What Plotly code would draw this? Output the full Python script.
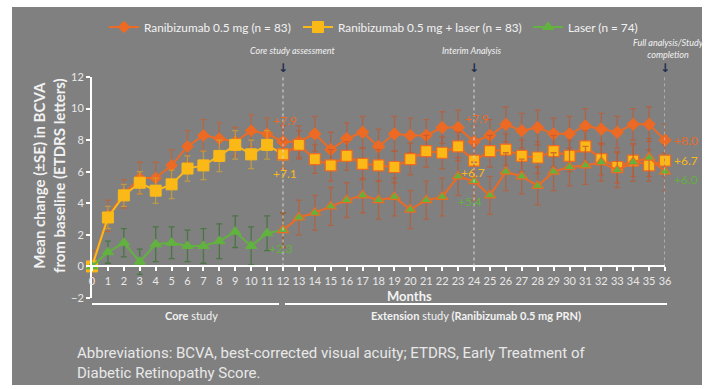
import plotly.graph_objects as go

# Mean change in BCVA (ETDRS letters) by month, with standard errors
months = list(range(0, 37))

ranibizumab = [0.0, 3.2, 4.6, 5.6, 5.6, 6.4, 7.6, 8.3, 8.1, 7.9, 8.6, 8.4, 7.9,
               7.9, 8.4, 7.4, 8.1, 8.5, 7.6, 8.4, 8.3, 8.3, 8.8, 8.8, 7.9,
               8.3, 9.0, 8.6, 8.8, 8.4, 8.4, 8.9, 8.7, 8.5, 9.0, 9.0, 8.0]
ranibizumab_se = [1.0, 1.0, 0.9, 1.0, 1.0, 1.0, 1.0, 1.0, 1.0, 0.9, 1.0, 1.0, 1.0,
                  1.0, 1.1, 1.1, 1.0, 1.0, 1.1, 1.1, 1.1, 1.0, 1.0, 1.1, 1.0,
                  1.0, 1.1, 1.1, 1.1, 1.0, 1.1, 1.1, 1.0, 1.0, 1.0, 1.1, 1.0]

combo = [0.0, 3.1, 4.5, 5.3, 4.8, 5.2, 6.2, 6.4, 7.0, 7.7, 7.1, 7.7, 7.1,
         7.7, 6.8, 6.4, 7.0, 6.5, 6.4, 6.3, 6.8, 7.3, 7.2, 7.6, 6.7,
         7.3, 7.4, 7.0, 6.9, 7.3, 7.0, 7.6, 6.8, 6.3, 6.7, 6.4, 6.7]
combo_se = [0.0, 0.7, 0.7, 0.7, 0.8, 0.9, 0.8, 0.9, 1.0, 0.9, 0.9, 0.9, 0.9,
            0.9, 0.9, 1.0, 0.9, 1.0, 1.0, 1.0, 1.0, 1.0, 1.0, 0.9, 1.0,
            1.0, 1.0, 1.0, 1.0, 1.0, 1.0, 1.0, 1.0, 1.0, 1.0, 1.0, 1.0]

laser = [0.0, 0.9, 1.5, 0.3, 1.4, 1.5, 1.3, 1.3, 1.6, 2.2, 1.3, 2.1, 2.3,
         3.1, 3.4, 3.8, 4.2, 4.5, 4.2, 4.4, 3.6, 4.2, 4.4, 5.7, 5.4,
         4.5, 6.0, 5.7, 5.1, 6.0, 6.3, 6.4, 6.6, 6.1, 6.6, 6.9, 6.0]
laser_se = [0.0, 0.7, 0.9, 0.8, 1.1, 1.0, 1.0, 1.1, 1.1, 1.0, 1.2, 1.1, 1.1,
            1.1, 1.1, 1.2, 1.1, 1.1, 1.2, 1.2, 1.2, 1.2, 1.2, 1.2, 1.2,
            1.2, 1.2, 1.1, 1.2, 1.2, 1.2, 1.2, 1.2, 1.1, 1.2, 1.2, 1.2]

series_names = ["Ranibizumab 0.5 mg (n = 83)",
                "Ranibizumab 0.5 mg + laser (n = 83)",
                "Laser (n = 74)"]
milestones = [12, 24, 36]
milestone_texts = ["<i>Core study assessment</i>", "<i>Interim Analysis</i>",
                   "<i>Full analysis/Study<br>completion</i>"]
y_ticks = list(range(-2, 13, 2))

ORANGE = "#EC6A24"
YELLOW = "#FBB917"
GREEN = "#62B23F"
BG = "#808080"
TEXT = "#F2F2F2"
FONT = "Lato"

W, H = 715, 389
ML, MR, MT, MB = 92, 50, 77, 91
PW, PH = W - ML - MR, H - MT - MB


def px(xp):
    return (xp - ML) / PW


def py(yp):
    return (H - MB - yp) / PH


series = [
    (series_names[0], ranibizumab, ranibizumab_se, ORANGE, "diamond", 9,
     "rgba(200,95,45,0.75)"),
    (series_names[1], combo, combo_se, YELLOW, "square", 11,
     "rgba(215,165,45,0.7)"),
    (series_names[2], laser, laser_se, GREEN, "triangle-up", 10,
     "rgba(55,115,45,0.75)"),
]
legend_ids = ["legend", "legend2", "legend3"]
legend_x = [104, 298, 528]

fig = go.Figure()
CORE_END = 12

# Core study period: each arm in its own colour
for (name, vals, se, col, sym, size, ecol), lg in zip(series, legend_ids):
    fig.add_trace(go.Scatter(
        x=months[:CORE_END + 1], y=vals[:CORE_END + 1], name=name, legend=lg,
        mode="lines+markers", cliponaxis=False,
        line=dict(color=col, width=2),
        marker=dict(symbol=sym, size=size, color=col,
                    line=dict(color=col, width=1)),
        error_y=dict(type="data", array=se[:CORE_END + 1], visible=True,
                     color=ecol, thickness=1.3, width=3),
    ))

# Extension study: all arms on ranibizumab PRN, drawn in orange
ext_err = "rgba(190,90,50,0.75)"
for name, vals, se, col, sym, size, ecol in series:
    fig.add_trace(go.Scatter(
        x=months[CORE_END:], y=vals[CORE_END:], name=name, showlegend=False,
        mode="lines+markers", cliponaxis=False,
        line=dict(color=ORANGE, width=2),
        marker=dict(symbol=sym, size=size, color=col,
                    line=dict(color=ORANGE, width=1.2)),
        error_y=dict(type="data", array=se[CORE_END:], visible=True,
                     color=ext_err, thickness=1.3, width=3),
    ))

shapes = [
    # grey panel with a thin white border around it
    dict(type="rect", xref="paper", yref="paper", layer="below",
         x0=px(12), x1=px(702), y0=py(385), y1=py(7),
         fillcolor=BG, line=dict(width=0)),
    # study period brackets
    dict(type="line", xref="paper", yref="paper", x0=px(92), x1=px(279),
         y0=py(304), y1=py(304), line=dict(color="white", width=2)),
    dict(type="line", xref="paper", yref="paper", x0=px(285), x1=px(667),
         y0=py(304), y1=py(304), line=dict(color="white", width=2)),
]
for m in milestones:
    shapes.append(dict(type="line", xref="x", yref="y", x0=m, x1=m, y0=0, y1=12,
                       line=dict(color="#D8D8D8", width=1, dash="dot")))


def note(xp, yp, text, size, color=TEXT, family=FONT, **kw):
    return dict(x=px(xp), y=py(yp), xref="paper", yref="paper", text=text,
                showarrow=False, xanchor=kw.pop("xanchor", "center"),
                yanchor="middle", font=dict(family=family, size=size, color=color),
                **kw)


annotations = []
for m, t, (tx, ty) in zip(milestones, milestone_texts,
                          [(292, 50), (472, 50), (668, 48)]):
    annotations.append(note(tx, ty, t, 9))
    annotations.append(dict(x=m, y=12, xref="x", yref="y", text="<b>↓</b>",
                            showarrow=False, yanchor="middle", yshift=9,
                            font=dict(family="DejaVu Sans", size=12,
                                      color="#1F2E50")))

# value labels at the milestones
label_offsets = {
    12: [(2, 21, "center"), (2, -19, "center"), (-2, -18, "center")],
    24: [(3, 23, "center"), (-1, -12, "center"), (-4, -20, "center")],
    36: [(7, 0, "left"), (7, 0, "left"), (7, -8, "left")],
}
for m, offs in label_offsets.items():
    for (name, vals, se, col, sym, size, ecol), (dx, dy, anc) in zip(series, offs):
        annotations.append(dict(
            x=m, y=vals[m], xref="x", yref="y", text=f"+{vals[m]:.1f}",
            showarrow=False, xshift=dx, yshift=dy, xanchor=anc, yanchor="middle",
            font=dict(family=FONT, size=12, color=col)))

annotations += [
    note(409, 296, "<b>Months</b>", 13),
    note(191, 315, "<b>Core</b> study", 11),
    note(476, 315, "<b>Extension</b> study <b>(Ranibizumab 0.5 mg PRN)</b>", 11),
    note(49, 176, "<b>Mean change (±SE) in BCVA<br>from baseline (ETDRS letters)</b>",
         15, textangle=-90),
    note(75, 363, "Abbreviations: BCVA, best-corrected visual acuity; ETDRS, "
                  "Early Treatment of<br>Diabetic Retinopathy Score.",
         15, color="#E8E8E8", family="Roboto", xanchor="left", align="left"),
]

legend_style = dict(orientation="h", xanchor="left", yanchor="middle",
                    y=py(27), bgcolor="rgba(0,0,0,0)", itemwidth=30,
                    font=dict(family=FONT, size=11.8, color=TEXT))

fig.update_layout(
    width=W, height=H, autosize=False,
    margin=dict(l=ML, r=MR, t=MT, b=MB),
    paper_bgcolor="white", plot_bgcolor="rgba(0,0,0,0)",
    font=dict(family=FONT, color=TEXT),
    shapes=shapes, annotations=annotations,
    showlegend=True,
    xaxis=dict(range=[0, 36], anchor="free", position=2 / 14,
               tickvals=months, ticktext=[str(m) for m in months],
               showline=True, linecolor="white", linewidth=2,
               ticks="outside", ticklen=4, tickcolor="white", tickwidth=1.5,
               tickfont=dict(family=FONT, size=11, color="#E8E8E8"),
               showgrid=False, zeroline=False),
    yaxis=dict(range=[-2, 12], tickvals=y_ticks,
               showline=True, linecolor="white", linewidth=2,
               ticks="outside", ticklen=4, tickcolor="white", tickwidth=1.5,
               tickfont=dict(family=FONT, size=11, color="#E8E8E8"),
               showgrid=False, zeroline=False),
)
for lg, lx in zip(legend_ids, legend_x):
    fig.update_layout({lg: dict(legend_style, x=px(lx))})

fig.write_html("out.html")
